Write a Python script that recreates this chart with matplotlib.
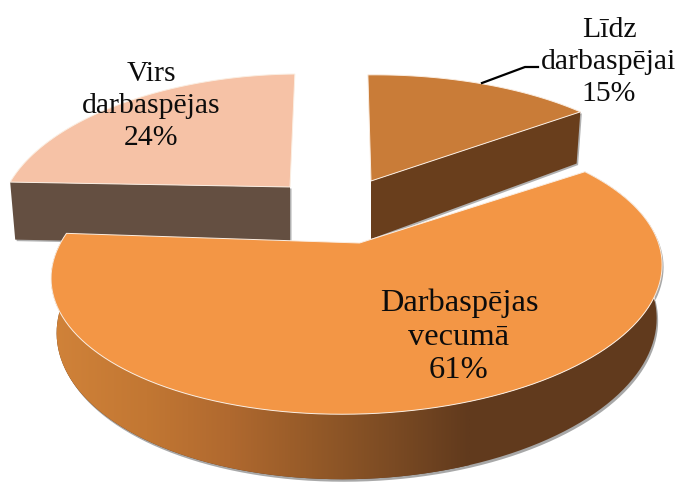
import numpy as np
import matplotlib
matplotlib.use("Agg")
import matplotlib.pyplot as plt
from matplotlib.colors import LinearSegmentedColormap
from matplotlib.patches import Polygon

plt.rcParams["font.family"] = ["Liberation Serif", "DejaVu Serif"]

categories = ["Līdz\ndarbaspējai", "Darbaspējas\nvecumā", "Virs\ndarbaspējas"]
shares = [15, 61, 24]
top_colors = ["#c97c38", "#f39645", "#f6c2a6"]
side_colors = ["#693e1c", None, "#644f41"]

START = -1.5
RX, RY, PERSP = 299, 137, 0.2
# per slice look: centre in pixels, x/y scale, shear, angle nudge, depth
centres = [(371, 181), (359.5, 243), (290, 187)]
scale_x = [0.98, 1.0, 0.945]
scale_y = [0.93, 1.0, 0.99]
shears = [4, 14, 14]
nudges = [0, 2, 0]
depths = [58, 52, 58]
label_xy = [(609, 62), (459, 337), (151, 106)]
label_size = [21.4, 23.4, 21.4]
label_spacing = [1.31, 1.2, 1.31]


def project(angle, i, low=False):
    a = np.radians(angle + nudges[i])
    u, v = np.sin(a), np.cos(a)
    w = 1 + PERSP * v
    cx, cy = centres[i]
    x = scale_x[i] * (RX * u + shears[i] * v) / w
    y = cy - scale_y[i] * RY * v / w
    if low:
        x = x * 0.982
        y = y + depths[i] / w
    return np.column_stack([cx + x, y])


fig = plt.figure(figsize=(6.78, 4.83), dpi=100)
ax = fig.add_axes([0, 0, 1, 1])
ax.set_xlim(0, 678)
ax.set_ylim(483, 0)
ax.axis("off")

edges = START + np.cumsum([0] + shares) * 3.6
grad = LinearSegmentedColormap.from_list(
    "side",
    [(0, "#d08239"), (0.22, "#c27733"), (0.42, "#b0692f"), (0.62, "#955a28"),
     (0.82, "#7a4a23"), (1, "#613a1d")],
)

# virs, then the small slice, big slice goes over both
for i in [2, 0, 1]:
    t = np.linspace(edges[i], edges[i + 1], 120)
    arc = project(t, i)
    arc_low = project(t, i, low=True)
    if i == 1:
        side = np.vstack([arc, arc_low[::-1]])
        ax.add_patch(Polygon(side + [1.5, 2.5], fc="#a8a8a8", ec="none", zorder=1))
        patch = Polygon(side, fc="#613a1d", ec="none", zorder=2)
        ax.add_patch(patch)
        xs = np.linspace(0, 1, 256)[None, :]
        im = ax.imshow(xs, cmap=grad, extent=[55, 470, 483, 200], aspect="auto", zorder=2)
        im.set_clip_path(patch)
        ax.set_xlim(0, 678)
        ax.set_ylim(483, 0)
    else:
        j = 0 if i == 2 else -1
        c = np.array(centres[i], dtype=float)
        side = np.array([c, arc[j], arc_low[j], c + [0, 58]])
        ax.add_patch(Polygon(side + [1.5, 1.5], fc="#b0b0b0", ec="none", zorder=1))
        ax.add_patch(Polygon(side, fc=side_colors[i], ec="none", zorder=2))
    face = np.vstack([[centres[i]], arc])
    ax.add_patch(Polygon(face, fc=top_colors[i], ec="#fbeee2", lw=0.7, zorder=3))

for i, name in enumerate(categories):
    ax.text(label_xy[i][0], label_xy[i][1], f"{name}\n{shares[i]}%", ha="center", va="center",
            fontsize=label_size[i], color="#0c0c0c", linespacing=label_spacing[i], zorder=5)

ax.plot([482, 525, 538], [83, 67, 67], color="black", lw=1.6, zorder=4)

fig.savefig("out.png", dpi=100)
